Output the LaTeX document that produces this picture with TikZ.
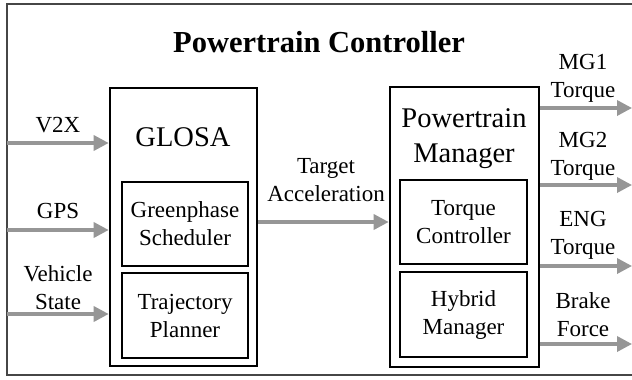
\documentclass[tikz,border=0pt]{standalone}
\usepackage{fontspec}
\setmainfont{Liberation Serif}
\usetikzlibrary{arrows.meta}
\begin{document}
\begin{tikzpicture}[x=1pt,y=-1pt,
  lbl/.style={align=center,inner sep=0pt,font=\fontsize{23}{28}\selectfont},
  big/.style={align=center,inner sep=0pt,font=\fontsize{28.5}{35}\selectfont},
  outerbox/.style={draw=black,line width=2.6pt,inner sep=0pt},
  innerbox/.style={draw=black,line width=2.4pt,inner sep=0pt,align=center,font=\fontsize{23}{28}\selectfont},
  sig/.style={draw={rgb,255:red,150;green,150;blue,150},line width=3.4pt,
    -{Triangle[length=15pt,width=15pt]}}]
\clip (0,0) rectangle (632,380);
\fill[white] (0,0) rectangle (632,380);
% frame
\draw[draw={rgb,255:red,70;green,70;blue,70},line width=1.6pt] (645,4) -- (7,4) -- (7,375) -- (645,375);
\node[inner sep=0pt,font=\fontsize{30.5}{36}\selectfont\bfseries] (title) at (319,42) {Powertrain Controller};
% GLOSA block
\node[outerbox,minimum width=147pt,minimum height=278pt] (glosa) at (183.5,227) {};
\node[big] (glosat) at (183,137) {GLOSA};
\node[innerbox,minimum width=126pt,minimum height=84pt] (gs) at (185,224) {Greenphase\\Scheduler};
\node[innerbox,minimum width=126pt,minimum height=85pt] (tp) at (185,315.5) {Trajectory\\Planner};
% Powertrain manager block
\node[outerbox,minimum width=149pt,minimum height=280pt] (pm) at (464.5,227) {};
\node[big] (pmt) at (464,139) {Powertrain\\Manager};
\node[innerbox,minimum width=127pt,minimum height=84pt] (tc) at (463.5,222) {Torque\\Controller};
\node[innerbox,minimum width=127pt,minimum height=85pt] (hm) at (463.5,314.5) {Hybrid\\Manager};
% inputs
\coordinate (inv) at (7,143);
\coordinate (ing) at (7,230);
\coordinate (ins) at (7,314);
\draw[sig] (inv) -- (inv -| glosa.west);
\draw[sig] (ing) -- (ing -| glosa.west);
\draw[sig] (ins) -- (ins -| glosa.west);
\node[lbl] (lv2x) at (58,125) {V2X};
\node[lbl] (lgps) at (58,211) {GPS};
\node[lbl] (lvs) at (58,288) {Vehicle\\State};
% target acceleration
\coordinate (ta) at (257,222);
\draw[sig] (ta -| glosa.east) -- (ta -| pm.west);
\node[lbl] (lta) at (326,180) {Target\\Acceleration};
% outputs
\coordinate (o1) at (632,108);
\coordinate (o2) at (632,185);
\coordinate (o3) at (632,266);
\coordinate (o4) at (632,344);
\draw[sig] (o1 -| pm.east) -- (o1);
\draw[sig] (o2 -| pm.east) -- (o2);
\draw[sig] (o3 -| pm.east) -- (o3);
\draw[sig] (o4 -| pm.east) -- (o4);
\node[lbl] (lo1) at (583,78) {MG1\\Torque};
\node[lbl] (lo2) at (583,156) {MG2\\Torque};
\node[lbl] (lo3) at (583,235) {ENG\\Torque};
\node[lbl] (lo4) at (583,315) {Brake\\Force};
\end{tikzpicture}
\end{document}
